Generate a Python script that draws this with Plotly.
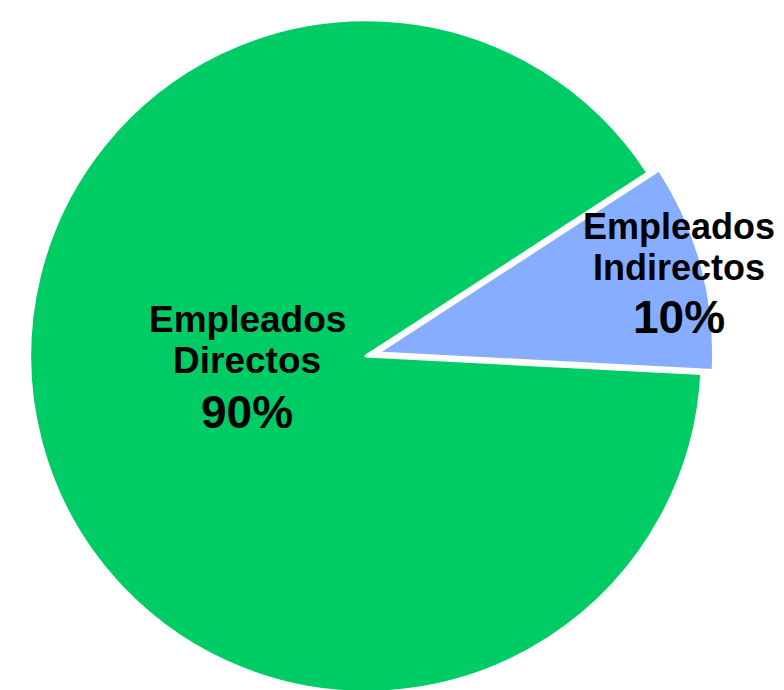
import plotly.graph_objects as go

# Data
labels = ["Empleados Indirectos", "Empleados Directos"]
values = [10, 90]
colors = ["#86ADFF", "#00CC66"]
pulls = [0.035, 0.0]

W, H = 784, 696
OFF = 8  # page body offset of the figure

fig = go.Figure(go.Pie(
    labels=labels,
    values=values,
    sort=False,
    direction="clockwise",
    rotation=57,
    pull=pulls,
    marker=dict(colors=colors, line=dict(color="white", width=3)),
    textinfo="none",
    hoverinfo="label+percent",
    showlegend=False,
    domain=dict(x=[0, 2 * (366 - OFF) / W], y=[0, 1]),
))

# Label placement (pixel centres of each text line, layout only)
total = sum(values)
label_layout = {
    "Empleados Indirectos": dict(x=679, ys=[226.5, 267.5, 317.1], sizes=[36, 36, 46]),
    "Empleados Directos": dict(x=247, ys=[319.2, 360.2, 412.1], sizes=[37, 37, 46]),
}
annotations = []
for lab, val in zip(labels, values):
    words = lab.split(" ")
    lines = words + [f"{round(100 * val / total)}%"]
    pos = label_layout[lab]
    for line, y, s in zip(lines, pos["ys"], pos["sizes"]):
        annotations.append(dict(
            text=f"<b>{line}</b>",
            x=(pos["x"] - OFF) / W, y=1 - (y - OFF) / H,
            xref="paper", yref="paper",
            xanchor="center", yanchor="middle",
            showarrow=False,
            font=dict(family="Arial, Liberation Sans, sans-serif", size=s, color="black"),
        ))

fig.update_layout(
    width=W, height=H,
    margin=dict(l=0, r=0, t=0, b=0),
    paper_bgcolor="white",
    plot_bgcolor="white",
    annotations=annotations,
)

fig.write_html("out.html")
